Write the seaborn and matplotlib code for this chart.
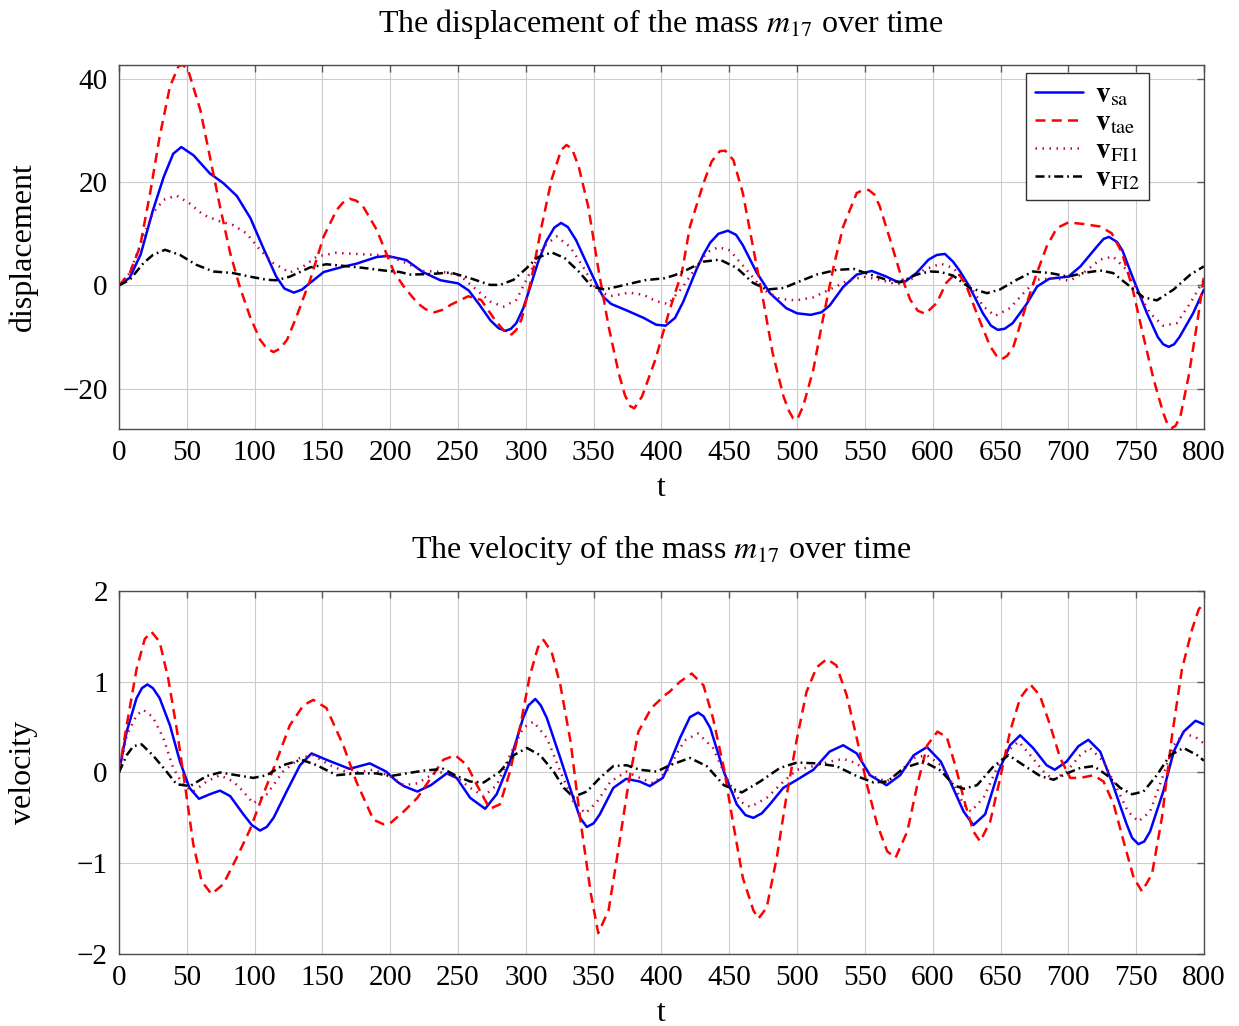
import numpy as np
import matplotlib
matplotlib.use("Agg")
import matplotlib.pyplot as plt
import seaborn as sns

# ---- values (t, value) ----
desl_sa = [(0, 0), (8, 1.5), (16, 6), (25, 14.5), (33, 21), (40, 25.5), (46, 26.8), (55, 25.2), (67, 21.7),
           (77, 19.8), (87, 17.3), (97, 13), (106, 7.5), (116, 1.7), (122, -0.6), (129, -1.4), (135, -0.8),
           (141, 0.5), (151, 2.6), (165, 3.6), (175, 4.2), (190, 5.5), (198, 5.7), (207, 5.2), (212, 4.9),
           (224, 2.6), (237, 1.0), (250, 0.4), (258, -1.0), (266, -3.8), (274, -6.8), (280, -8.3), (285, -8.8),
           (289, -8.4), (293, -7.3), (298, -4.5), (303, -0.5), (309, 4.5), (315, 8.5), (321, 11.2), (326, 12.1),
           (331, 11.3), (337, 8.8), (344, 4.8), (352, 0.3), (357, -2.2), (363, -3.6), (374, -4.8), (387, -6.3),
           (396, -7.6), (403, -7.8), (410, -6.3), (416, -3.2), (421, 0), (426, 3.2), (431, 6.0), (436, 8.3),
           (442, 10), (449, 10.6), (455, 9.8), (460, 7.8), (465, 5.2), (470, 2.6), (480, -1.5), (492, -4.4),
           (500, -5.4), (510, -5.7), (518, -5.2), (524, -3.9), (534, -0.3), (544, 2.1), (555, 2.8), (565, 1.8),
           (574, 0.7), (580, 0.8), (588, 2.4), (597, 5.0), (603, 5.9), (609, 6.1), (615, 4.6), (620, 2.8),
           (627, -0.2), (637, -5.4), (643, -7.8), (648, -8.6), (653, -8.4), (659, -7.3), (669, -3.7),
           (677, -0.2), (686, 1.3), (700, 1.7), (709, 3.7), (721, 7.5), (726, 9.0), (730, 9.4), (736, 8.4),
           (740, 6.7), (748, 1.2), (758, -5.4), (766, -10.0), (770, -11.4), (774, -11.9), (778, -11.4),
           (782, -10.0), (792, -5.4), (800, -0.8)]

desl_tae = [(0, 0), (8, 2.4), (15.5, 7.5), (23, 17.9), (30, 28.8), (37.6, 38.5), (44, 42.5), (47, 42.7),
            (51, 41.7), (60, 34), (67, 25), (74.5, 15.3), (82, 6.3), (89, -0.2), (96.6, -6), (104, -10.5),
            (109, -12.2), (114, -12.9), (119, -12.2), (124, -10.5), (131, -6), (141, 1.1), (151, 9.5),
            (160.5, 14.6), (165, 16.0), (170, 16.8), (175, 16.4), (180, 15.3), (190, 10.8), (197, 6.3),
            (203, 2.5), (210, -0.2), (220, -3.4), (226, -4.6), (232.7, -5.2), (239, -4.7), (245, -3.7),
            (257.5, -2.1), (267, -2.8), (277, -6.6), (284, -8.8), (289.5, -9.5), (293, -8.6), (296.8, -6.6),
            (304, 1.1), (311.6, 11.4), (319, 20.5), (326, 26.2), (330, 27.2), (334, 26.5), (339, 23),
            (346, 15.3), (353.6, 3.0), (361, -7.9), (368.5, -17), (373, -21.2), (377, -23.4), (380, -23.8),
            (385.7, -21.5), (395.5, -14.4), (405.3, -5.4), (410, -1.5), (415, 2.4), (421, 11.4), (431, 19.8),
            (437, 24), (443, 26), (447, 26.1), (453, 24.3), (460, 17.9), (467.5, 7.5), (475, -2.8),
            (482, -13.1), (490, -21.5), (494, -24.3), (497, -25.7), (500, -26.0), (504.5, -23.4), (512, -16.3),
            (519, -6.6), (527, 3.7), (534, 11.4), (544, 17.9), (548, 18.4), (552.7, 18.5), (557, 17.6),
            (561, 15.3), (568.7, 8.8), (576, 2.4), (583.5, -2.8), (589, -4.9), (594.6, -5.5), (603, -3.4),
            (610, 0.5), (616, 2.1), (620, 2.0), (625, -0.2), (632.5, -5.4), (642.4, -11.8), (647, -13.6),
            (651, -14.3), (655, -13.6), (659.6, -11.8), (669.4, -3.4), (676.8, 2.4), (684, 7.5), (691.5, 11.1),
            (700, 12.2), (711, 11.9), (723.5, 11.4), (732, 10.1), (739.6, 6.3), (747, -0.2), (755.4, -9.9),
            (763, -18.3), (770, -24.7), (773, -26.8), (776.5, -27.6), (779, -27.2), (782.6, -25.4),
            (788.7, -17.6), (795, -7.3), (800, 1.7)]

desl_fi1 = [(0, 0), (8, 2.4), (18, 9.5), (25, 14), (33, 16.6), (42.5, 17.4), (52, 15.9), (62, 13.7),
            (74.5, 12.4), (84, 11.7), (94, 10.1), (104, 6.9), (114, 4.3), (126, 2.5), (136, 3.7), (146, 5.6),
            (160, 6.3), (175, 6.1), (190, 5.9), (200, 5.6), (212, 4.3), (224.5, 2.8), (239, 2.6), (251.5, 1.9),
            (263.5, -0.8), (273.6, -3.1), (283.5, -4.1), (293, -2.8), (303, 2.4), (313, 7.5), (322.6, 9.5),
            (332.5, 7.5), (342, 3.7), (352, -0.8), (362, -2.1), (376, -1.4), (386.6, -1.8), (396.5, -3.1),
            (405, -3.6), (416, -0.2), (426, 3.7), (434, 6.5), (442, 7.4), (450.5, 6.8), (462.8, 3.0),
            (475, -0.8), (487, -2.6), (499.5, -2.9), (512, -2.3), (524, -0.8), (536.6, 0.8), (549, 1.7),
            (561, 1.1), (573.5, 0.2), (583.5, 1.1), (593.4, 3.0), (606, 4.2), (615, 3.4), (627.6, -0.2),
            (637.5, -4.1), (646, -5.9), (657, -4.4), (667, -1.5), (676.8, 1.1), (689, 1.4), (701, 0.9),
            (711, 2.4), (723.5, 5.0), (733, 5.6), (743, 3.0), (750.5, -0.8), (760.3, -5.4), (770, -7.8),
            (780, -7.3), (790, -3.4), (800, 1.1)]

desl_fi2 = [(0, 0), (8, 1.1), (18, 4.3), (25, 5.9), (34, 6.9), (45, 5.9), (57, 4.0), (69.6, 2.7), (84, 2.4),
            (96.6, 1.7), (109, 1.1), (116, 1.0), (126, 1.7), (141, 3.5), (153, 4.1), (165, 3.8), (180, 3.4),
            (195, 2.9), (207, 2.6), (215, 2.1), (229.5, 2.2), (244.5, 2.5), (259, 1.4), (273.6, 0.1), (281, 0.1),
            (291, 1.1), (300.8, 3.4), (308, 5.3), (319, 6.4), (328.6, 5.3), (339, 2.7), (348.5, -0.2),
            (358, -0.8), (373, 0.1), (387.6, 1.0), (402.4, 1.4), (410, 2.0), (418.6, 3.0), (431, 4.6),
            (443, 5.0), (455.5, 3.4), (467.5, 0.5), (477.6, -0.8), (490, -0.5), (502, 0.8), (514.5, 2.1),
            (529, 3.0), (541.6, 3.2), (554, 2.1), (566, 1.1), (576, 0.6), (588, 2.1), (598, 2.7), (606, 2.6),
            (615, 1.9), (627.6, -0.5), (640, -1.5), (649.5, -0.8), (662, 1.1), (674, 2.7), (686.6, 2.4),
            (700, 1.7), (711, 2.4), (723.5, 2.9), (733, 2.4), (745.5, -0.2), (755.4, -2.3), (765.3, -2.9),
            (777.6, -0.8), (790, 2.1), (800, 3.7)]

vel_sa = [(0, 0), (5.7, 0.45), (13, 0.82), (17, 0.93), (21, 0.97), (25, 0.93), (30, 0.82), (37.6, 0.52),
          (45, 0.12), (52, -0.17), (59, -0.29), (67, -0.24), (74.5, -0.2), (82, -0.26), (91.7, -0.46),
          (98, -0.58), (104, -0.64), (109, -0.6), (114, -0.5), (123.6, -0.21), (133.5, 0.08), (142, 0.21),
          (153, 0.14), (170, 0.04), (185, 0.1), (197, 0.01), (205, -0.1), (210, -0.15), (220, -0.21),
          (230, -0.14), (241.7, -0.01), (249, -0.06), (259, -0.28), (270, -0.4), (278.5, -0.24), (288.3, 0.12),
          (298, 0.6), (302, 0.74), (307, 0.81), (311, 0.74), (315.5, 0.6), (325.4, 0.16), (335, -0.28),
          (340, -0.5), (345, -0.6), (350, -0.56), (354.6, -0.46), (364.5, -0.17), (374, -0.07), (384, -0.1),
          (391.4, -0.15), (401, -0.06), (406, 0.1), (413.7, 0.38), (421, 0.61), (427, 0.66), (431, 0.62),
          (436, 0.49), (446, 0.01), (455.5, -0.35), (462, -0.47), (467.8, -0.5), (474, -0.45), (480, -0.35),
          (489.8, -0.17), (500, -0.08), (512, 0.03), (524, 0.23), (534, 0.3), (544, 0.21), (553.8, -0.03),
          (566, -0.14), (576, -0.03), (586, 0.19), (595.8, 0.28), (606, 0.12), (615, -0.17), (622.8, -0.43),
          (630, -0.58), (638.7, -0.46), (648.5, 0.01), (657, 0.3), (664.5, 0.41), (674, 0.27), (684, 0.08),
          (690, 0.03), (698.7, 0.12), (707.5, 0.29), (714.8, 0.36), (723.5, 0.23), (733, -0.14), (743, -0.57),
          (747, -0.72), (751.7, -0.79), (756, -0.76), (760.3, -0.65), (770, -0.21), (777.7, 0.23), (785, 0.45),
          (793.8, 0.57), (800, 0.53)]

vel_tae = [(0, 0), (5.7, 0.52), (13, 1.14), (19, 1.47), (24, 1.55), (30, 1.44), (36.4, 1.03), (42.5, 0.49),
           (48.7, -0.14), (54.8, -0.79), (61, -1.2), (68.3, -1.34), (77, -1.23), (86.8, -0.94), (96.6, -0.63),
           (106.4, -0.24), (116, 0.12), (126, 0.52), (136, 0.74), (143.3, 0.8), (153, 0.71), (165.4, 0.3),
           (175, -0.1), (187.6, -0.52), (195, -0.57), (200, -0.56), (210, -0.43), (220, -0.28), (230, -0.06),
           (239.2, 0.14), (248, 0.19), (256.6, 0.08), (264, -0.14), (269, -0.28), (273.6, -0.4), (281, -0.35),
           (288.3, 0.01), (296, 0.52), (303, 1.07), (309, 1.38), (313, 1.46), (319, 1.33), (325.5, 0.96),
           (333, 0.34), (340, -0.5), (348, -1.34), (353.4, -1.77), (361, -1.52), (368, -0.87), (375.5, -0.14),
           (383, 0.45), (392.6, 0.71), (402.4, 0.85), (406, 0.89), (413.7, 1.0), (422.3, 1.09), (431, 0.96),
           (438, 0.6), (446, 0.05), (453, -0.57), (460, -1.16), (467.8, -1.52), (471.5, -1.61), (477.6, -1.49),
           (485, -0.94), (492, -0.28), (500, 0.38), (507, 0.89), (514.5, 1.16), (522, 1.25), (529, 1.18),
           (536.6, 0.85), (544, 0.38), (551.6, -0.14), (559, -0.57), (566.5, -0.87), (572.6, -0.94),
           (581.3, -0.65), (588.6, -0.14), (596, 0.3), (603.5, 0.45), (610.4, 0.39), (616.6, 0.08),
           (624, -0.35), (630, -0.65), (635, -0.76), (642.4, -0.54), (649.8, -0.06), (657, 0.45),
           (664.5, 0.82), (672, 0.97), (679, 0.85), (686.6, 0.52), (694, 0.16), (701.4, -0.06), (708.8, -0.06),
           (718.7, -0.03), (726, -0.1), (733.4, -0.35), (740.8, -0.76), (748.2, -1.16), (754.3, -1.31),
           (761.7, -1.12), (769, -0.5), (776.5, 0.41), (783.8, 1.14), (791.3, 1.58), (796.2, 1.8), (800, 1.86)]

vel_fi1 = [(0, 0), (5.7, 0.41), (13, 0.63), (18, 0.69), (25, 0.61), (32.7, 0.38), (40, 0.05), (47.4, -0.14),
           (54.8, -0.21), (64.6, -0.1), (74.5, -0.03), (84.3, -0.1), (91.7, -0.21), (99, -0.34), (109, -0.24),
           (121, 0.01), (133.5, 0.16), (143.3, 0.19), (155.6, 0.08), (170, -0.01), (187.6, 0.03), (200, -0.04),
           (210, -0.14), (220, -0.12), (234.6, 0.01), (247, -0.03), (259, -0.17), (269, -0.26), (278.5, -0.14),
           (288.3, 0.19), (298, 0.49), (305.6, 0.56), (315.5, 0.38), (325.5, 0.01), (335, -0.32), (344, -0.45),
           (352.6, -0.32), (362.5, -0.1), (374.3, 0.01), (384, -0.06), (394, -0.12), (404, 0.01), (413.7, 0.27),
           (418, 0.36), (427, 0.43), (438, 0.27), (448, -0.06), (458, -0.32), (465.5, -0.38), (477.6, -0.28),
           (490, -0.1), (500, 0.03), (512, 0.07), (524, 0.12), (534, 0.15), (544, 0.1), (553.8, -0.03),
           (566, -0.1), (576, 0.01), (586, 0.16), (595.8, 0.19), (606, 0.08), (615.8, -0.15), (622.8, -0.35),
           (628, -0.43), (637.5, -0.28), (647.4, 0.05), (654.8, 0.23), (663.3, 0.34), (672, 0.19),
           (681.8, 0.01), (689, -0.08), (698.7, 0.01), (708.8, 0.19), (716, 0.27), (726, 0.12), (735.6, -0.17),
           (744, -0.43), (751.7, -0.54), (760.3, -0.43), (770, -0.03), (777.7, 0.3), (785, 0.43),
           (793.8, 0.39), (800, 0.32)]

vel_fi2 = [(0, 0), (5.7, 0.19), (10.6, 0.29), (16.7, 0.31), (25, 0.19), (34, 0.03), (42.5, -0.13),
           (52.4, -0.15), (64.6, -0.04), (74.5, 0), (86.8, -0.03), (99, -0.06), (109, -0.03), (121, 0.08),
           (134.7, 0.14), (145.8, 0.08), (160.5, -0.03), (175, -0.01), (190, -0.01), (200, -0.04), (212, -0.01),
           (224.5, 0.02), (239.2, 0.04), (249, -0.04), (259, -0.1), (269, -0.11), (281, 0.01), (291, 0.19),
           (300.8, 0.27), (310.6, 0.19), (320.5, 0.01), (328, -0.17), (335, -0.27), (345, -0.21),
           (354.6, -0.06), (364.5, 0.07), (374.3, 0.08), (384, 0.03), (396.5, 0.01), (406.3, 0.08), (421, 0.16),
           (433.4, 0.07), (446, -0.14), (459.3, -0.22), (472.7, -0.1), (487.4, 0.05), (500, 0.11),
           (514.5, 0.1), (529, 0.07), (544, -0.04), (556.4, -0.11), (566.5, -0.1), (578.8, 0.05),
           (593.4, 0.12), (606, 0.02), (615.5, -0.14), (622.8, -0.18), (632.7, -0.14), (645, 0.07), (656, 0.19),
           (667, 0.08), (679.4, -0.04), (689.2, -0.08), (699, -0.01), (708.8, 0.05), (718.7, 0.07),
           (728.5, -0.03), (738.3, -0.17), (747, -0.24), (755.4, -0.21), (765.3, -0.03), (775, 0.19),
           (785, 0.27), (795, 0.19), (800, 0.13)]

legendas = [r"$\mathbf{v}_{\mathrm{sa}}$", r"$\mathbf{v}_{\mathrm{tae}}$",
            r"$\mathbf{v}_{\mathrm{FI1}}$", r"$\mathbf{v}_{\mathrm{FI2}}$"]
x_ticks = list(range(0, 801, 50))

# ---- estilo ----
sns.set_theme(style="whitegrid")
plt.rcParams['font.family'] = ['Liberation Serif', 'DejaVu Serif']
plt.rcParams['mathtext.fontset'] = 'stix'
plt.rcParams['axes.unicode_minus'] = True
plt.rcParams['text.color'] = 'black'
plt.rcParams['axes.labelcolor'] = 'black'

estilos = [
    dict(color='#0000FF', linestyle='-'),
    dict(color='#FF0000', linestyle=(0, (4, 2.5))),
    dict(color='#BF0040', linestyle=(0, (0.6, 2.2))),
    dict(color='black', linestyle=(0, (3.6, 1.6, 0.7, 1.6))),
]

fig = plt.figure(figsize=(12.39, 10.26), dpi=100)
ax1 = fig.add_axes([0.0960, 0.5819, 0.8757, 0.3548])
ax2 = fig.add_axes([0.0960, 0.0702, 0.8757, 0.3538])


def desenha(ax, series):
    for dados, est, lab in zip(series, estilos, legendas):
        t, v = np.array(dados).T
        sns.lineplot(x=t, y=v, ax=ax, estimator=None, sort=False, linewidth=1.8, label=lab, **est)


def formata(ax, titulo, ylabel):
    ax.set_xlim(0, 800)
    ax.set_xticks(x_ticks)
    ax.set_title(titulo, fontsize=23, pad=24, color='black')
    ax.set_xlabel("t", fontsize=23, labelpad=6)
    ax.set_ylabel(ylabel, fontsize=23)
    ax.yaxis.set_label_coords(-0.075, 0.5)
    ax.tick_params(direction='in', top=True, right=True, length=5, width=1, color='0.35',
                   labelsize=21, pad=8, labelcolor='black')
    ax.grid(True, color='0.8', linewidth=0.8)
    for s in ax.spines.values():
        s.set_color('0.3')
        s.set_linewidth(1.0)


desenha(ax1, [desl_sa, desl_tae, desl_fi1, desl_fi2])
todos = np.concatenate([np.array(d)[:, 1] for d in [desl_sa, desl_tae, desl_fi1, desl_fi2]])
ax1.set_ylim(todos.min() - 0.2, todos.max())
ax1.set_yticks([-20, 0, 20, 40])
formata(ax1, r"The displacement of the mass $m_{17}$ over time", "displacement")
ax1.legend(loc='upper right', bbox_to_anchor=(0.949, 0.978), fontsize=21, frameon=True, fancybox=False,
           edgecolor='0.2', framealpha=1, handlelength=1.65, labelspacing=0.05, borderpad=0.3,
           handletextpad=0.4, borderaxespad=0)

desenha(ax2, [vel_sa, vel_tae, vel_fi1, vel_fi2])
ax2.set_ylim(-2, 2)
ax2.set_yticks([-2, -1, 0, 1, 2])
formata(ax2, r"The velocity of the mass $m_{17}$ over time", "velocity")
ax2.get_legend().remove()

fig.savefig("out.png", dpi=100)
